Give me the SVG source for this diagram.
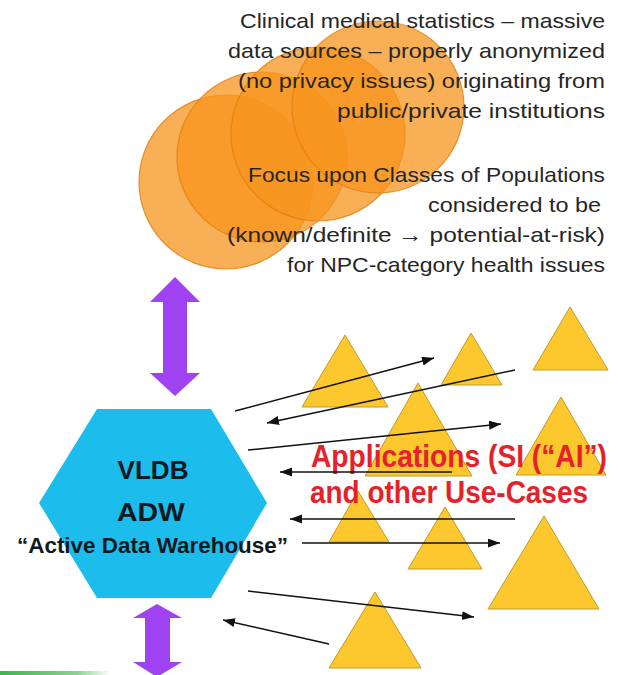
<svg xmlns="http://www.w3.org/2000/svg" width="618" height="675" viewBox="0 0 618 675">
<style>
.circ{fill:#F7941D;fill-opacity:0.75;stroke:#E07E0E;stroke-opacity:0.8;stroke-width:1.2}
.tri{fill:#FDC72E;stroke:#C29A2C;stroke-width:1}
.src{font-family:"Liberation Sans",Arial,sans-serif;font-size:21px;fill:#262626;text-anchor:end}
.dw{font-family:"Liberation Sans",Arial,sans-serif;font-weight:bold;fill:#101820;text-anchor:middle}
.app{font-family:"Liberation Sans",Arial,sans-serif;font-weight:bold;font-size:31px;fill:#E3222B}
.ln{stroke:#111;stroke-width:1.5;fill:none;marker-end:url(#ah)}
.purple{fill:#9F43F2}
</style>
<defs>
<marker id="ah" markerUnits="userSpaceOnUse" markerWidth="13" markerHeight="10" refX="12" refY="4.5" orient="auto">
<path d="M0,0 L12,4.5 L0,9 z" fill="#111"/>
</marker>
<linearGradient id="gr" x1="0" y1="0" x2="1" y2="0">
<stop offset="0" stop-color="#3DB54A"/>
<stop offset="0.7" stop-color="#3DB54A" stop-opacity="0.6"/>
<stop offset="1" stop-color="#3DB54A" stop-opacity="0"/>
</linearGradient>
</defs>
<rect width="618" height="675" fill="#fff"/>
<rect x="0" y="671" width="110" height="4" fill="url(#gr)"/>
<g id="data-sources">
<circle class="circ" cx="226" cy="182" r="87"/>
<circle class="circ" cx="262" cy="157" r="85"/>
<circle class="circ" cx="318" cy="134" r="87"/>
<circle class="circ" cx="378" cy="107" r="86"/>
</g>
<g id="sources-text">
<text class="src" x="605" y="28" textLength="365" lengthAdjust="spacingAndGlyphs">Clinical medical statistics – massive</text>
<text class="src" x="605" y="58" textLength="377" lengthAdjust="spacingAndGlyphs">data sources – properly anonymized</text>
<text class="src" x="605" y="88" textLength="367" lengthAdjust="spacingAndGlyphs">(no privacy issues) originating from</text>
<text class="src" x="605" y="118" textLength="268" lengthAdjust="spacingAndGlyphs">public/private institutions</text>
<text class="src" x="605" y="182" textLength="357" lengthAdjust="spacingAndGlyphs">Focus upon Classes of Populations</text>
<text class="src" x="601" y="212" textLength="173" lengthAdjust="spacingAndGlyphs">considered to be</text>
<text class="src" x="605" y="242" textLength="378" lengthAdjust="spacingAndGlyphs">(known/definite → potential-at-risk)</text>
<text class="src" x="605" y="272" textLength="318" lengthAdjust="spacingAndGlyphs">for NPC-category health issues</text>
</g>
<g id="adw">
<polygon points="97,409 211,409 267,503 211,598 97,598 39,503" fill="#1CBDEC"/>
<text class="dw" x="153" y="479" font-size="25" textLength="71" lengthAdjust="spacingAndGlyphs">VLDB</text>
<text class="dw" x="151" y="521" font-size="25" textLength="68" lengthAdjust="spacingAndGlyphs">ADW</text>
<text class="dw" x="152.5" y="553" font-size="22" textLength="271" lengthAdjust="spacingAndGlyphs">“Active Data Warehouse”</text>
</g>
<g id="app-1"><polygon class="tri" points="345,335 388,407 302,407"/></g>
<g id="app-2"><polygon class="tri" points="471,333 502,385 441,385"/></g>
<g id="app-3"><polygon class="tri" points="570,307 608,370 533,370"/></g>
<g id="app-4"><polygon class="tri" points="418,383 472,476 365,476"/></g>
<g id="app-5"><polygon class="tri" points="561,397 606,475 516,475"/></g>
<g id="app-6"><polygon class="tri" points="358,491 389,542 329,542"/></g>
<g id="app-7"><polygon class="tri" points="445,507 482,569 408,569"/></g>
<g id="app-8"><polygon class="tri" points="544,516 599,609 488,609"/></g>
<g id="app-9"><polygon class="tri" points="375,592 421,668 329,668"/></g>
<g id="apps-label">
<text class="app" x="311" y="467" textLength="296" lengthAdjust="spacingAndGlyphs">Applications (SI (“AI”)</text>
<text class="app" x="310" y="503" textLength="278" lengthAdjust="spacingAndGlyphs">and other Use-Cases</text>
</g>
<g id="connectors">
<polygon class="purple" points="175,277 200,302 187,302 187,373 200,373 175,396 150,373 163,373 163,302 150,302"/>
<polygon class="purple" points="157,604 182,618 170,618 170,662 182,662 157,677 133,662 145,662 145,618 133,618"/>
<line class="ln" x1="235" y1="411" x2="434" y2="358"/>
<line class="ln" x1="515" y1="370" x2="267" y2="423"/>
<line class="ln" x1="248" y1="450" x2="501" y2="424"/>
<line class="ln" x1="452" y1="472" x2="280" y2="472"/>
<line class="ln" x1="515" y1="519" x2="290" y2="519"/>
<line class="ln" x1="302" y1="543" x2="500" y2="543"/>
<line class="ln" x1="248" y1="591" x2="474" y2="617"/>
<line class="ln" x1="329" y1="644" x2="223" y2="620"/>
</g>
</svg>
